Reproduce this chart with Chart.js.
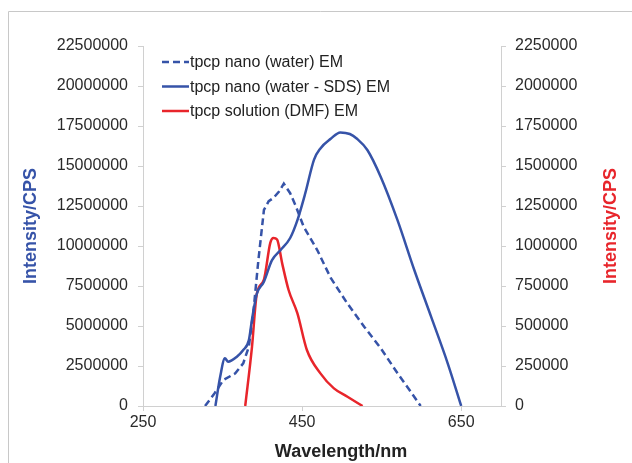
<!DOCTYPE html>
<html>
<head>
<meta charset="utf-8">
<script src="https://cdn.jsdelivr.net/npm/chart.js@4"></script>
<style>
  html, body { margin: 0; padding: 0; background: #fff; }
  #wrap { width: 632px; height: 463px; position: relative; }
</style>
</head>
<body>
<div id="wrap"><canvas id="chart" width="632" height="463"></canvas></div>
<script>
// x ticks shown on the wavelength axis
const xTicks = [250, 450, 650];

// tpcp nano (water) EM  -- dashed blue, left axis
const waterNm  = [328, 340, 351, 366, 376, 383, 389, 395, 402, 408, 414, 421, 427, 435, 442, 452, 469, 486, 507, 528, 549, 570, 585, 599];
const waterVal = [0, 0.8e6, 1.62e6, 2.04e6, 2.67e6, 3.7e6, 6.0e6, 9.1e6, 12.25e6, 12.8e6, 13.0e6, 13.4e6, 13.9e6, 13.3e6, 12.5e6, 11.2e6, 9.75e6, 8.0e6, 6.4e6, 4.96e6, 3.6e6, 2.04e6, 1.0e6, 0];

// tpcp nano (water - SDS) EM  -- solid blue, left axis
const sdsNm  = [341, 347, 353, 357, 368, 376, 383, 387, 393, 402, 412, 423, 435, 444, 454, 465, 473, 486, 498, 510, 519, 532, 549, 570, 591, 612, 633, 650];
const sdsVal = [0, 1.83e6, 2.98e6, 2.77e6, 3.08e6, 3.5e6, 4.1e6, 5.4e6, 7.0e6, 7.77e6, 9.1e6, 9.75e6, 10.5e6, 11.6e6, 13.3e6, 15.4e6, 16.1e6, 16.7e6, 17.1e6, 17.0e6, 16.7e6, 16.0e6, 14.3e6, 11.6e6, 8.5e6, 5.6e6, 2.67e6, 0];

// tpcp solution (DMF) EM  -- red, right axis
const dmfNm  = [378.5, 387, 393, 402, 410, 414, 418.5, 425, 433, 444, 456, 473, 490, 507, 526];
const dmfVal = [0, 370000, 700000, 790000, 1020000, 1050000, 1040000, 890000, 725000, 580000, 350000, 204000, 110000, 58000, 0];

const BLUE = '#3653a8';
const RED = '#e8252b';
const AXIS = '#d0d0d0';
const TICKTXT = '#2a2a2a';
const FONT = '"Liberation Sans", Arial, sans-serif';

function pts(xs, ys) {
    return xs.map((x, i) => ({ x: x, y: ys[i] }));
}

const extras = {
    id: 'extras',
    beforeDraw(chart) {
        const c = chart.ctx;
        c.save();
        c.strokeStyle = '#c8c8c8';
        c.lineWidth = 1;
        c.beginPath();
        c.moveTo(8.5, 463);
        c.lineTo(8.5, 11.5);
        c.lineTo(632, 11.5);
        c.stroke();
        c.restore();
    },
    afterDraw(chart) {
        const c = chart.ctx;
        const a = chart.chartArea;
        c.save();
        c.font = 'bold 18px ' + FONT;
        c.textAlign = 'center';
        c.textBaseline = 'middle';
        c.fillStyle = '#222';
        c.fillText('Wavelength/nm', 341, 452);

        c.save();
        c.translate(31, (a.top + a.bottom) / 2);
        c.rotate(-Math.PI / 2);
        c.fillStyle = BLUE;
        c.fillText('Intensity/CPS', 0, 0);
        c.restore();

        c.save();
        c.translate(611, (a.top + a.bottom) / 2);
        c.rotate(-Math.PI / 2);
        c.fillStyle = RED;
        c.fillText('Intensity/CPS', 0, 0);
        c.restore();

        // legend
        c.font = '16px ' + FONT;
        c.textAlign = 'left';
        chart.data.datasets.forEach((ds, i) => {
            const y = 62 + i * 24.5;
            c.strokeStyle = ds.borderColor;
            c.lineWidth = 2.5;
            c.setLineDash(ds.borderDash || []);
            c.beginPath();
            c.moveTo(162, y);
            c.lineTo(189, y);
            c.stroke();
            c.setLineDash([]);
            c.fillStyle = '#222';
            c.fillText(ds.label, 190, y + 1);
        });
        c.restore();
    }
};

const plain = v => String(v);

new Chart(document.getElementById('chart'), {
    type: 'line',
    data: {
        datasets: [
            {
                label: 'tpcp nano (water) EM',
                data: pts(waterNm, waterVal),
                borderColor: BLUE,
                borderWidth: 2.5,
                borderDash: [7, 4],
                pointRadius: 0,
                tension: 0,
                yAxisID: 'y'
            },
            {
                label: 'tpcp nano (water - SDS) EM',
                data: pts(sdsNm, sdsVal),
                borderColor: BLUE,
                borderWidth: 2.5,
                pointRadius: 0,
                cubicInterpolationMode: 'monotone',
                yAxisID: 'y'
            },
            {
                label: 'tpcp solution (DMF) EM',
                data: pts(dmfNm, dmfVal),
                borderColor: RED,
                borderWidth: 2.5,
                pointRadius: 0,
                cubicInterpolationMode: 'monotone',
                yAxisID: 'y2'
            }
        ]
    },
    options: {
        responsive: false,
        animation: false,
        layout: { padding: { top: 46, left: 0, right: 0, bottom: 0 } },
        plugins: { legend: { display: false }, tooltip: { enabled: false } },
        scales: {
            x: {
                type: 'linear',
                min: 250,
                max: 700,
                afterBuildTicks: s => { s.ticks = xTicks.map(v => ({ value: v })); },
                afterFit: s => { s.height = 57; },
                grid: { drawOnChartArea: false, color: AXIS, tickLength: 5 },
                border: { color: AXIS },
                ticks: { color: TICKTXT, padding: 2, callback: plain, font: { size: 16, family: FONT } }
            },
            y: {
                position: 'left',
                min: 0,
                max: 22500000,
                ticks: { stepSize: 2500000, color: TICKTXT, padding: 10, callback: plain, font: { size: 16, family: FONT } },
                afterFit: s => { s.width = 143; },
                grid: { drawOnChartArea: false, color: AXIS, tickLength: 5 },
                border: { color: AXIS }
            },
            y2: {
                position: 'right',
                min: 0,
                max: 2250000,
                ticks: { stepSize: 250000, color: TICKTXT, padding: 9, callback: plain, font: { size: 16, family: FONT } },
                afterFit: s => { s.width = 131; },
                grid: { drawOnChartArea: false, color: AXIS, tickLength: 5 },
                border: { color: AXIS }
            }
        }
    },
    plugins: [extras]
});
</script>
</body>
</html>
